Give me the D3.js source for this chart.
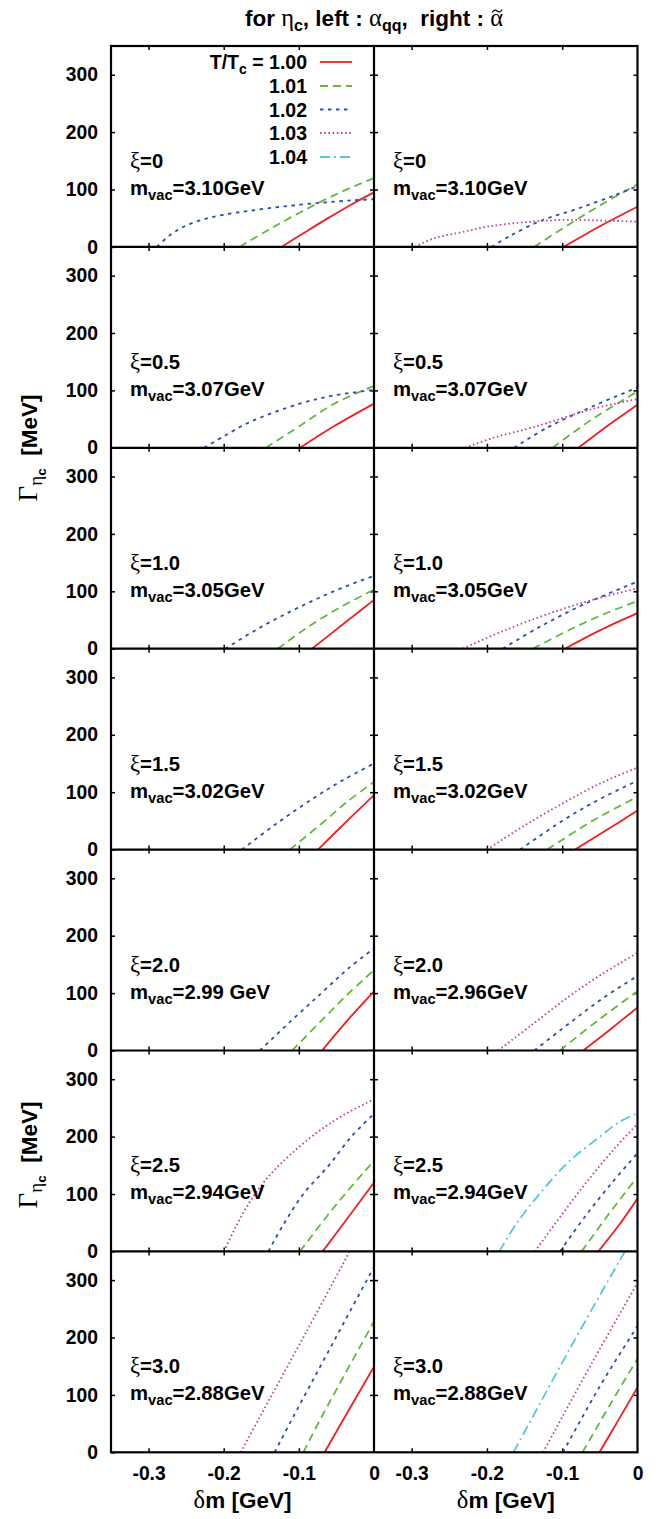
<!DOCTYPE html>
<html><head><meta charset="utf-8">
<script src="https://cdn.jsdelivr.net/npm/d3@7"></script>
<style>body{margin:0;background:#fff}</style>
</head><body><svg id="c" width="664" height="1519"></svg>
<script>
// ---------- data ----------
const tLabels = ["1.00", "1.01", "1.02", "1.03", "1.04"];
const xiLabels = ["0", "0.5", "1.0", "1.5", "2.0", "2.5", "3.0"];
const mvacLeft = ["3.10GeV", "3.07GeV", "3.05GeV", "3.02GeV", "2.99 GeV", "2.94GeV", "2.88GeV"];
const mvacRight = ["3.10GeV", "3.07GeV", "3.05GeV", "3.02GeV", "2.96GeV", "2.94GeV", "2.88GeV"];
const xTickValues = [-0.3, -0.2, -0.1, 0];
const yTickValues = [0, 100, 200, 300];

// each panel: curves in order T/Tc = 1.00, 1.01, 1.02, 1.03, 1.04 ; points [δm GeV, Γ MeV]
const left0 = [
  [[-0.123,0],[-0.09,27],[-0.06,51],[-0.03,74],[0,95]],
  [[-0.179,0],[-0.14,30],[-0.0985,60],[-0.05,92],[0,120]],
  [[-0.289,0],[-0.272,20],[-0.252,36],[-0.227,48],[-0.2,56],[-0.165,63],[-0.12,70.5],[-0.07,77],[-0.03,81],[0,83]]
];
const right0 = [
  [[-0.098,0],[-0.05,36],[0,70]],
  [[-0.1375,0],[-0.09,40],[-0.045,76],[0,109]],
  [[-0.194,0],[-0.1694,19],[-0.1295,45],[-0.0808,66],[-0.0322,89],[0,106]],
  [[-0.2955,0],[-0.27,15],[-0.236,25],[-0.2,35],[-0.15,43],[-0.1,47],[-0.05,46],[0,44]]
];
const left1 = [
  [[-0.0985,0],[-0.05,40],[0,77]],
  [[-0.144,0],[-0.1,37],[-0.054,76],[0,108]],
  [[-0.226,0],[-0.2,20],[-0.165,45],[-0.0985,77],[-0.054,91],[0,101]]
];
const right1 = [
  [[-0.0786,0],[-0.04,38],[0,75]],
  [[-0.1127,0],[-0.06,50],[0,98]],
  [[-0.164,0],[-0.12,35],[-0.06,72],[0,105]],
  [[-0.229,0],[-0.19,18],[-0.138,36],[-0.0587,68],[0,85]]
];
const left2 = [
  [[-0.0825,0],[-0.04,44],[0,85]],
  [[-0.128,0],[-0.09,36],[-0.045,72],[0,103]],
  [[-0.198,0],[-0.15,38],[-0.1,72],[-0.05,102],[0,127]]
];
const right2 = [
  [[-0.0963,0],[-0.05,32],[0,62]],
  [[-0.139,0],[-0.09,33],[-0.045,60],[0,83]],
  [[-0.179,0],[-0.13,38],[-0.07,78],[0,117]],
  [[-0.232,0],[-0.18,30],[-0.12,60],[-0.06,85],[0,105]]
];
const left3 = [
  [[-0.0745,0],[-0.035,51],[0,95]],
  [[-0.112,0],[-0.07,45],[-0.035,84],[0,118]],
  [[-0.176,0],[-0.13,45],[-0.08,90],[-0.04,122],[0,150]]
];
const right3 = [
  [[-0.083,0],[-0.04,35],[0,68]],
  [[-0.12,0],[-0.06,50],[0,92]],
  [[-0.156,0],[-0.1,50],[-0.05,88],[0,120]],
  [[-0.2,0],[-0.15,42],[-0.1,80],[-0.05,115],[0,143]]
];
const left4 = [
  [[-0.069,0],[-0.035,53],[0,103]],
  [[-0.109,0],[-0.07,52],[-0.035,98],[0,140]],
  [[-0.152,0],[-0.11,52],[-0.07,100],[-0.035,142],[0,178]]
];
const right4 = [
  [[-0.072,0],[-0.035,38],[0,75]],
  [[-0.103,0],[-0.05,55],[0,103]],
  [[-0.137,0],[-0.09,48],[-0.045,92],[0,130]],
  [[-0.185,0],[-0.14,45],[-0.09,95],[-0.045,135],[0,170]]
];
const left5 = [
  [[-0.0683,0],[-0.034,60],[0,120]],
  [[-0.0985,0],[-0.05,82],[0,158]],
  [[-0.1406,0],[-0.12,48],[-0.094,100],[-0.06,150],[-0.03,200],[0,240]],
  [[-0.1996,0],[-0.185,40],[-0.165,87],[-0.14,131],[-0.11,170],[-0.075,208],[-0.04,238],[0,265]]
];
const right5 = [
  [[-0.052,0],[-0.025,45],[0,92]],
  [[-0.0742,0],[-0.037,67],[0,130]],
  [[-0.103,0],[-0.07,60],[-0.035,118],[0,171]],
  [[-0.1362,0],[-0.1,65],[-0.065,125],[-0.03,180],[0,222]],
  [[-0.1836,0],[-0.1605,49],[-0.1295,101],[-0.094,153],[-0.0587,191],[-0.0233,226],[0,241]]
];
const left6 = [
  [[-0.0658,0],[-0.0386,62],[0,149]],
  [[-0.094,0],[-0.0696,62],[0,228]],
  [[-0.1323,0],[-0.1074,62],[0,323]],
  [[-0.1773,0],[-0.1517,62],[-0.09,210],[-0.025,368]]
];
const right6 = [
  [[-0.0506,0],[-0.025,57],[0,113]],
  [[-0.073,0],[-0.036,84],[0,163]],
  [[-0.099,0],[-0.05,115],[0,220]],
  [[-0.1254,0],[-0.06,157],[0,295]],
  [[-0.1647,0],[-0.09,180],[-0.0166,350],[-0.01,364]]
];
const leftPanels = [left0, left1, left2, left3, left4, left5, left6];
const rightPanels = [right0, right1, right2, right3, right4, right5, right6];

// ---------- styles ----------
const colors = ["#ee2020", "#5fbb38", "#2f4fae", "#c23fa6", "#55c8e0"];
const dashes = [null, "8,5", "3.5,4.5", "1.6,2.6", "10,4,2,4"];
const SANS = "'Liberation Sans', Arial, sans-serif";
const SERIF = "'Liberation Serif', 'Times New Roman', serif";
const TICKFONT = 19.3;

// ---------- layout ----------
const L = 111, M = 374, R = 637.5, T = 46, PH = 200.9, nRows = 7;
const svg = d3.select("#c");
svg.append("rect").attr("width", 664).attr("height", 1519).attr("fill", "#fff");

const xL = d3.scaleLinear().domain([-0.35, 0]).range([L, M]);
const xR = d3.scaleLinear().domain([-0.35, 0]).range([M, R]);

function rich(g, x, y, parts, opts = {}) {
  const base = opts.size || 18.5;
  const t = g.append("text").attr("x", x).attr("y", y)
    .attr("text-anchor", opts.anchor || "start")
    .attr("font-family", SANS).attr("font-weight", "bold")
    .attr("font-size", base).attr("fill", "#000")
    .style("white-space", "pre");
  let shift = 0;
  parts.forEach(p => {
    const s = t.append("tspan").text(p.t);
    const target = p.sub ? (p.sub === 2 ? 9 : 5) : 0;
    if (target !== shift) { s.attr("dy", target - shift); shift = target; }
    if (p.serif) s.attr("font-family", SERIF).attr("font-weight", "normal").attr("font-size", p.size || base + 2);
    if (p.sub) s.attr("font-size", p.size || (p.sub === 2 ? 11 : base * 0.73));
  });
  return t;
}

const line = (xs, ys) => d3.line().x(d => xs(d[0])).y(d => ys(d[1])).curve(d3.curveCatmullRom.alpha(0.5));

function styleAxis(a, withText) {
  a.select(".domain").remove();
  a.selectAll("line").attr("stroke-width", 1.5);
  if (withText) a.selectAll("text").attr("font-family", SANS).attr("font-weight", "bold").attr("font-size", TICKFONT).attr("fill", "#000");
}

for (let r = 0; r < nRows; r++) {
  const top = T + r * PH, bottom = T + (r + 1) * PH;
  const y = d3.scaleLinear().domain([0, 350]).range([bottom, top]);
  [[xL, leftPanels[r], mvacLeft[r], 0], [xR, rightPanels[r], mvacRight[r], 1]].forEach(([xs, curves, mvac, side]) => {
    const g = svg.append("g");
    const cid = `clip${r}_${side}`;
    svg.append("clipPath").attr("id", cid).append("rect")
      .attr("x", xs.range()[0]).attr("y", top).attr("width", xs.range()[1] - xs.range()[0]).attr("height", PH);
    const tick = 4;
    g.append("g").attr("transform", `translate(${xs.range()[0]},0)`)
      .call(d3.axisLeft(y).tickValues(side === 0 ? yTickValues : [100, 200, 300]).tickSize(-tick).tickPadding(13)
        .tickFormat(side === 0 ? d3.format("d") : () => ""))
      .call(a => styleAxis(a, true));
    g.append("g").attr("transform", `translate(${xs.range()[1]},0)`)
      .call(d3.axisRight(y).tickValues([100, 200, 300]).tickSize(-tick).tickFormat(() => ""))
      .call(a => styleAxis(a, false));
    g.append("g").attr("transform", `translate(0,${top})`)
      .call(d3.axisTop(xs).tickValues([-0.3, -0.2, -0.1]).tickSize(-tick).tickFormat(() => ""))
      .call(a => styleAxis(a, false));
    const bx = g.append("g").attr("transform", `translate(0,${bottom})`)
      .call(d3.axisBottom(xs).tickValues(r === nRows - 1 ? xTickValues : [-0.3, -0.2, -0.1]).tickSize(-tick).tickPadding(14)
        .tickFormat(r === nRows - 1 ? (d => d === 0 ? "0" : d.toFixed(1)) : () => ""))
      .call(a => styleAxis(a, true));
    bx.selectAll(".tick").filter(d => d === 0).select("line").remove();
    // curves
    const cg = g.append("g").attr("clip-path", `url(#${cid})`);
    curves.forEach((pts, i) => {
      cg.append("path").datum(pts).attr("d", line(xs, y)).attr("fill", "none")
        .attr("stroke", colors[i]).attr("stroke-width", 1.8)
        .attr("stroke-dasharray", dashes[i]);
    });
    // annotations
    const ax = xs.range()[0] + 19;
    rich(g, ax, bottom - 79, [{ t: "ξ", serif: true, size: 22.5 }, { t: "=" + xiLabels[r] }], { size: 20.3 });
    rich(g, ax, bottom - 52, [{ t: "m" }, { t: "vac", sub: 1, size: 14.7 }, { t: "=" + mvac }], { size: 20.3 });
  });
}
// frames
svg.append("rect").attr("x", L).attr("y", T).attr("width", R - L).attr("height", PH * nRows)
  .attr("fill", "none").attr("stroke", "#000").attr("stroke-width", 2.2);
svg.append("line").attr("x1", M).attr("x2", M).attr("y1", T).attr("y2", T + PH * nRows)
  .attr("stroke", "#000").attr("stroke-width", 2.2);
for (let r = 1; r < nRows; r++) {
  svg.append("line").attr("x1", L).attr("x2", R).attr("y1", T + r * PH).attr("y2", T + r * PH)
    .attr("stroke", "#000").attr("stroke-width", 2.2);
}

// legend
const legRows = [62, 86, 109.5, 133, 157];
tLabels.forEach((lab, i) => {
  const parts = i === 0 ? [{ t: "T/T" }, { t: "c", sub: 1, size: 14 }, { t: " = " + lab }] : [{ t: lab }];
  rich(svg, 307, legRows[i] + 7, parts, { anchor: "end", size: 19.5 });
  svg.append("line").attr("x1", 320).attr("x2", 352).attr("y1", legRows[i]).attr("y2", legRows[i])
    .attr("stroke", colors[i]).attr("stroke-width", 1.8).attr("stroke-dasharray", dashes[i]);
});

// title
const titleBase = 26;
const title = rich(svg, 374, titleBase, [
  { t: "for " }, { t: "η", serif: true }, { t: "c", sub: 1, size: 16 }, { t: ", left : " },
  { t: "α", serif: true }, { t: "qq", sub: 1, size: 16 }, { t: ",  right : " }, { t: "α", serif: true }
], { anchor: "middle", size: 22.5 });
{
  const n = title.node();
  const ext = n.getExtentOfChar(n.getNumberOfChars() - 1);
  const cx = ext.x + ext.width / 2 + 0.5, cy = titleBase - 15;
  svg.append("path")
    .attr("d", `M${cx - 5},${cy + 1.5} Q${cx - 2.5},${cy - 2.5} ${cx},${cy} T${cx + 5},${cy - 1.5}`)
    .attr("fill", "none").attr("stroke", "#000").attr("stroke-width", 1.2);
}

// y labels
[448, 1155].forEach(cy => {
  const g = svg.append("g").attr("transform", `translate(37,${cy}) rotate(-90)`);
  rich(g, 0, 0, [{ t: "Γ", serif: true, size: 27 }, { t: "η", serif: true, sub: 1, size: 19 }, { t: "c", sub: 2, size: 13.5 }, { t: "  [MeV]" }], { anchor: "middle", size: 22.5 });
});
// x labels
[(L + M) / 2, (M + R) / 2].forEach(cx => {
  rich(svg, cx, 1508, [{ t: "δ", serif: true, size: 24.5 }, { t: "m [GeV]" }], { anchor: "middle", size: 22.5 });
});
</script>
</body></html>
